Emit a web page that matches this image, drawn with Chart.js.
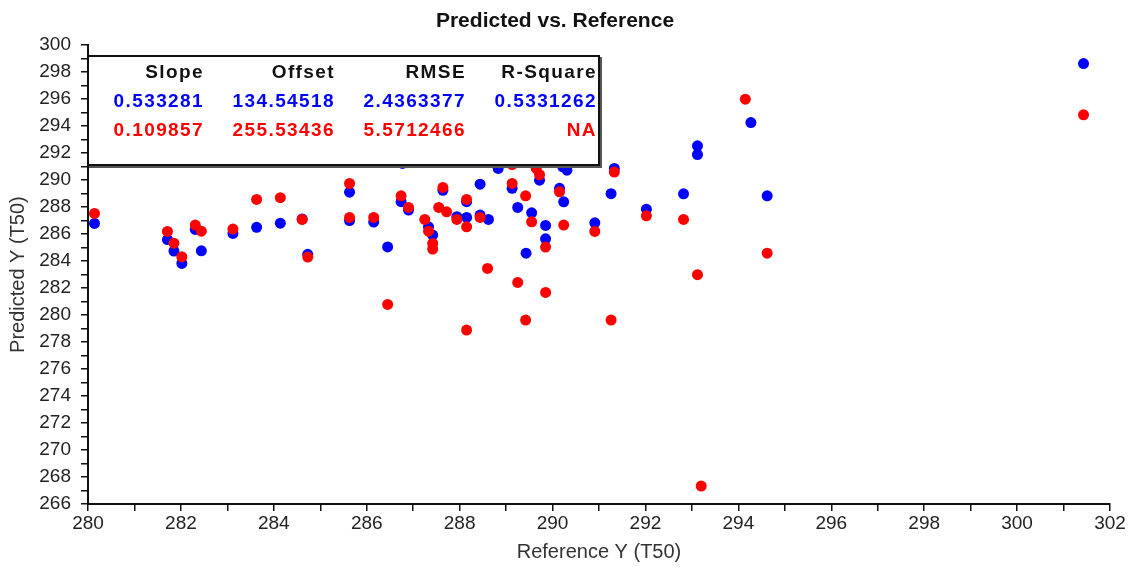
<!DOCTYPE html>
<html lang="en">
<head>
    <meta charset="UTF-8">
    <title>Predicted vs. Reference</title>
    <script src="https://cdn.jsdelivr.net/npm/chart.js"></script>
    <style>
        body { margin: 0; background: #fff; }
        #wrap { position: relative; width: 1139px; height: 567px; }
        #stats {
            position: absolute; left: 87px; top: 55px; width: 509px; height: 107px;
            background: #fff; border: 2px solid #111; box-shadow: 2px 2px 0 #555;
            font-family: "Liberation Sans", Arial, sans-serif; font-weight: bold;
            font-size: 19px; letter-spacing: 1.4px;
        }
        #stats table { border-collapse: collapse; position: absolute; top: 0px; right: 1px; }
        #stats td { text-align: right; padding: 0; height: 29px; }
        #stats td.c1 { width: 113px; }
        #stats td.c2, #stats td.c3, #stats td.c4 { width: 131px; }
        .hdr { color: #111; }
        .blue { color: #0000ff; }
        .red { color: #ff0000; }
    </style>
</head>
<body>
<div id="wrap">
    <canvas id="chart" width="1139" height="567"></canvas>
    <div id="stats">
        <table>
            <tr class="hdr"><td class="c1">Slope</td><td class="c2">Offset</td><td class="c3">RMSE</td><td class="c4">R-Square</td></tr>
            <tr class="blue"><td>0.533281</td><td>134.54518</td><td>2.4363377</td><td>0.5331262</td></tr>
            <tr class="red"><td>0.109857</td><td>255.53436</td><td>5.5712466</td><td>NA</td></tr>
        </table>
    </div>
</div>
<script>
    // reference values (x) and predicted values (y) for both models
    const blueX = [280.14, 281.71, 281.85, 282.02, 282.31, 282.44, 283.12, 283.63, 284.14, 284.61,
        284.73, 285.63, 285.63, 286.15, 286.45, 286.77, 286.74, 286.9, 287.33, 287.42,
        287.64, 287.94, 288.15, 288.15, 288.44, 288.44, 288.62, 288.83, 289.25, 289.13,
        289.43, 289.55, 289.72, 289.65, 289.85, 289.85, 290.15, 290.24, 290.22, 290.31,
        290.91, 291.26, 291.33, 292.02, 292.82, 293.12, 293.12, 294.27, 294.62, 301.43];
    const blueY = [286.79, 285.6, 284.74, 283.83, 286.35, 284.76, 286.05, 286.5, 286.81, 287.12,
        284.5, 289.11, 287.0, 286.89, 285.05, 291.24, 288.4, 287.78, 286.54, 285.93,
        289.25, 287.29, 288.4, 287.24, 289.7, 287.41, 287.09, 290.87, 287.98, 289.39,
        284.59, 287.58, 290.0, 291.05, 286.64, 285.65, 289.39, 288.39, 290.99, 290.74,
        286.84, 289.0, 290.87, 287.85, 288.99, 292.54, 291.9, 294.27, 288.84, 298.64];

    const redX = [280.14, 281.71, 281.85, 282.02, 282.31, 282.44, 283.12, 283.63, 284.14, 284.61,
        284.73, 285.63, 285.63, 286.15, 286.45, 286.74, 286.9, 287.25, 287.33, 287.42,
        287.42, 287.55, 287.64, 287.72, 287.94, 288.15, 288.15, 288.15, 288.44, 288.6,
        289.13, 289.13, 289.25, 289.42, 289.42, 289.55, 289.65, 289.72, 289.85, 289.85,
        290.15, 290.24, 290.91, 291.26, 291.33, 292.02, 292.82, 293.12, 293.2, 294.15,
        294.62, 301.43];
    const redY = [287.53, 286.2, 285.33, 284.32, 286.67, 286.22, 286.37, 288.57, 288.7, 287.09,
        284.3, 289.76, 287.24, 287.24, 280.79, 288.84, 287.98, 287.09, 286.22, 285.31,
        284.89, 287.98, 289.46, 287.65, 287.09, 288.57, 286.54, 278.89, 287.24, 283.46,
        291.16, 289.76, 282.42, 288.84, 279.63, 286.91, 290.87, 290.4, 285.04, 281.68,
        289.14, 286.67, 286.2, 279.63, 290.6, 287.36, 287.09, 282.99, 267.33, 296.0,
        284.59, 294.84];

    const xMin = 280, xMax = 302;
    const yMin = 266, yMax = 300;

    function toPoints(xs, ys) {
        return xs.map((x, i) => ({ x: x, y: ys[i] }));
    }

    const family = '"Liberation Sans", Arial, sans-serif';
    const tickFont = { family: family, size: 19 };

    new Chart(document.getElementById('chart'), {
        type: 'scatter',
        data: {
            datasets: [{
                label: 'Model 2',
                data: toPoints(redX, redY),
                backgroundColor: '#ff0000',
                borderWidth: 0,
                pointRadius: 5.5
            }, {
                label: 'Model 1',
                data: toPoints(blueX, blueY),
                backgroundColor: '#0000ff',
                borderWidth: 0,
                pointRadius: 5.5
            }]
        },
        options: {
            responsive: false,
            animation: false,
            layout: { padding: { top: 0, right: 29, bottom: 0, left: 0 } },
            plugins: {
                legend: { display: false },
                tooltip: { enabled: false },
                title: {
                    display: true,
                    text: 'Predicted vs. Reference',
                    color: '#111',
                    font: { family: family, size: 21, weight: 'bold' },
                    padding: { top: 9, bottom: 11 }
                }
            },
            scales: {
                x: {
                    type: 'linear',
                    min: xMin, max: xMax,
                    afterFit: s => { s.height = 63; },
                    border: { color: '#111', width: 2 },
                    grid: { drawOnChartArea: false, drawTicks: true, tickLength: 7, color: '#111', lineWidth: 1.5 },
                    ticks: {
                        stepSize: 1, color: '#222', font: tickFont, padding: 1, maxRotation: 0, autoSkip: false,
                        callback: v => (v % 2 === 0 ? v : '')
                    },
                    title: { display: true, text: 'Reference Y (T50)', color: '#333', font: { family: family, size: 20 }, padding: { top: 0, bottom: 3 } }
                },
                y: {
                    type: 'linear',
                    min: yMin, max: yMax,
                    afterFit: s => { s.width = 88; },
                    border: { color: '#111', width: 2 },
                    grid: { drawOnChartArea: false, drawTicks: true, tickLength: 7, color: '#111', lineWidth: 1.5 },
                    ticks: {
                        stepSize: 1, color: '#222', font: tickFont, padding: 10, autoSkip: false,
                        callback: v => (v % 2 === 0 ? v : '')
                    },
                    title: { display: true, text: 'Predicted Y (T50)', color: '#333', font: { family: family, size: 20 }, padding: { top: 6, bottom: 0 } }
                }
            }
        }
    });
</script>
</body>
</html>
